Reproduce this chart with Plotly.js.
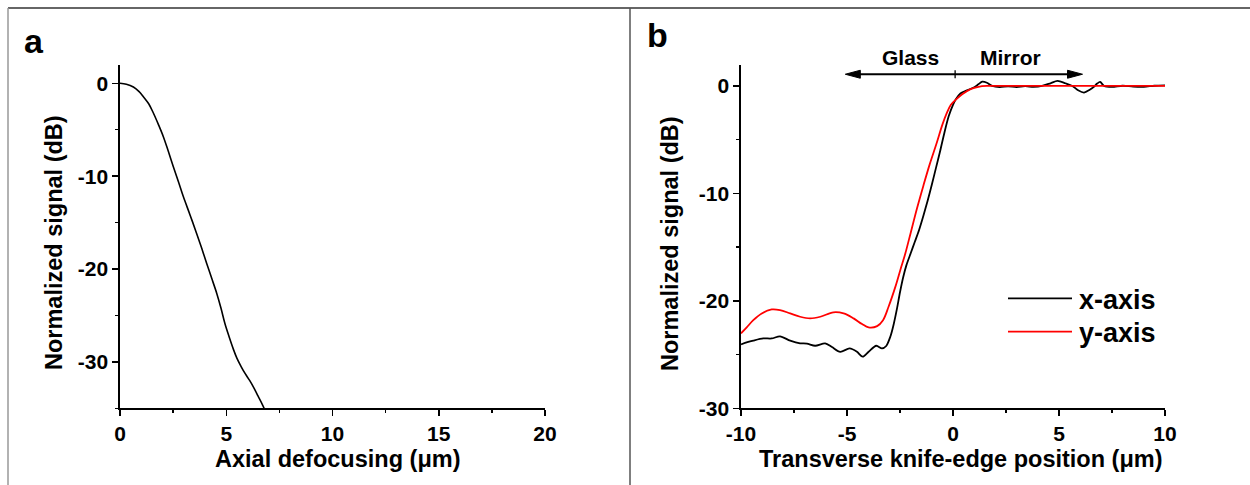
<!DOCTYPE html>
<html>
<head>
<meta charset="utf-8">
<script src="https://cdn.plot.ly/plotly-3.0.1.min.js"></script>
<style>
  html, body { margin: 0; padding: 0; background: #fff; }
  #chart { width: 1250px; height: 485px; }
</style>
</head>
<body>
<div id="chart"></div>
<script>
// Panel a: axial response (signal vs defocus)
const defocusUm = [0, 0.3, 0.63, 0.9, 1.1, 1.35, 1.57, 1.8, 2.04, 2.27, 2.51, 2.75, 2.98, 3.3, 3.61, 3.85, 4.08, 4.3, 4.55, 4.75, 4.94, 5.15, 5.33, 5.5, 5.7, 5.9, 6.1, 6.3, 6.5, 6.7, 6.9];
const axialSignalDb = [0, -0.1, -0.4, -0.9, -1.44, -2.2, -3.2, -4.4, -5.75, -7.3, -8.98, -10.6, -12.2, -14.2, -16.2, -17.8, -19.4, -20.9, -22.6, -24.2, -25.9, -27.4, -28.6, -29.6, -30.5, -31.3, -32.0, -32.8, -33.7, -34.6, -35.6];

// Panel b: knife-edge scans
const knifeX_xaxis = [-10, -9.7, -9.42, -8.95, -8.55, -8.16, -7.68, -7.21, -6.89, -6.5, -6.03, -5.71, -5.32, -4.88, -4.53, -4.26, -3.98, -3.62, -3.35, -3.15, -2.95, -2.8, -2.65, -2.5, -2.35, -2.2, -2.0, -1.8, -1.6, -1.4, -1.2, -1.0, -0.8, -0.6, -0.4, -0.2, 0.0, 0.15, 0.35, 0.6, 0.98, 1.2, 1.38, 1.6, 1.85, 2.2, 2.6, 3.0, 3.4, 3.8, 4.2, 4.6, 4.93, 5.3, 5.63, 5.9, 6.18, 6.45, 6.66, 6.8, 6.94, 7.13, 7.5, 8.0, 8.5, 9.0, 9.5, 10.0];
const signal_xaxis = [-24.05, -23.85, -23.7, -23.5, -23.5, -23.3, -23.7, -23.95, -23.98, -24.18, -23.96, -24.3, -24.74, -24.43, -24.74, -25.2, -24.74, -24.18, -24.43, -24.2, -23.3, -22.2, -20.8, -19.2, -17.8, -16.7, -15.6, -14.5, -13.4, -12.1, -10.7, -9.2, -7.6, -6.0, -4.3, -2.8, -1.75, -1.2, -0.7, -0.45, -0.15, 0.15, 0.4, 0.3, 0.0, -0.1, -0.04, -0.1, -0.02, -0.08, 0.0, 0.25, 0.47, 0.25, 0.0, -0.4, -0.62, -0.35, -0.05, 0.22, 0.37, 0.0, -0.08, 0.02, -0.06, -0.08, 0.02, 0.05];

const knifeX_yaxis = [-10, -9.73, -9.42, -9.02, -8.55, -8.16, -7.68, -7.21, -6.74, -6.26, -5.64, -5.16, -4.69, -4.29, -3.98, -3.58, -3.3, -3.04, -2.72, -2.48, -2.25, -2.0, -1.7, -1.4, -1.1, -0.8, -0.5, -0.3, -0.1, 0.12, 0.45, 0.83, 1.2, 1.6, 3.0, 5.0, 7.0, 10.0];
const signal_yaxis = [-23.03, -22.47, -21.8, -21.17, -20.8, -20.86, -21.17, -21.48, -21.63, -21.48, -21.07, -21.17, -21.63, -22.16, -22.47, -22.35, -21.8, -20.55, -18.7, -17.1, -15.6, -13.7, -11.4, -9.3, -7.3, -5.5, -3.6, -2.55, -1.75, -1.3, -0.75, -0.3, -0.08, 0.0, 0.0, 0.0, 0.0, 0.0];

const seriesNames = ['x-axis', 'y-axis'];
const seriesColors = ['#000000', '#ff0000'];

// Tick labels (hyphen minus, as printed)
const tickA_x = [0, 5, 10, 15, 20];
const tickA_xText = ['0', '5', '10', '15', '20'];
const tickA_y = [-30, -20, -10, 0];
const tickA_yText = ['-30', '-20', '-10', '0'];
const tickB_x = [-10, -5, 0, 5, 10];
const tickB_xText = ['-10', '-5', '0', '5', '10'];
const tickB_y = [-30, -20, -10, 0];
const tickB_yText = ['-30', '-20', '-10', '0'];

// Region markers above panel b
const glassEnd = -5.08;
const mirrorEnd = 6.11;
const interfacePos = 0.1;
const arrowLevel = 1.09;

const W = 1250, H = 485;
const px = v => v / W;
const py = v => 1 - v / H;

const FONT = 'Liberation Sans, Arial, Helvetica, sans-serif';
const tickFont = { family: FONT, size: 21, color: '#000', weight: 'bold' };

function axisBase(extra) {
  return Object.assign({
    showline: true, linecolor: '#000', linewidth: 1.6,
    ticks: 'outside', ticklen: 6, tickwidth: 1.5, tickcolor: '#000',
    showgrid: false, zeroline: false, tickfont: tickFont,
    tickmode: 'array', fixedrange: true
  }, extra);
}

const traces = [
  { x: defocusUm, y: axialSignalDb, xaxis: 'x', yaxis: 'y', mode: 'lines',
    line: { color: '#000', width: 1.6, shape: 'spline', smoothing: 1 }, showlegend: false },
  { x: knifeX_xaxis, y: signal_xaxis, xaxis: 'x2', yaxis: 'y2', mode: 'lines', name: seriesNames[0],
    line: { color: seriesColors[0], width: 1.8, shape: 'spline', smoothing: 0.8 }, showlegend: false },
  { x: knifeX_yaxis, y: signal_yaxis, xaxis: 'x2', yaxis: 'y2', mode: 'lines', name: seriesNames[1],
    line: { color: seriesColors[1], width: 1.8, shape: 'spline', smoothing: 1 }, showlegend: false }
];

// arrowhead size in axis units (15 px long, 4 px half-width)
const xUnitPx = (1165 - 741) / 20;
const yUnitPx = (408.3 - 65) / (1.95 + 30);
const headL = 15 / xUnitPx, headW = 4 / yUnitPx;

function head(tip, dir) {
  const base = tip + dir * headL;
  return `M ${tip},${arrowLevel} L ${base},${arrowLevel + headW} L ${base},${arrowLevel - headW} Z`;
}

const shapes = [
  // figure frame and panel divider
  { type: 'line', xref: 'paper', yref: 'paper', x0: px(8), x1: 1, y0: py(8), y1: py(8), line: { color: '#333', width: 1.5 } },
  { type: 'line', xref: 'paper', yref: 'paper', x0: px(8), x1: px(8), y0: 0, y1: py(8), line: { color: '#999', width: 1.5 } },
  { type: 'line', xref: 'paper', yref: 'paper', x0: px(630), x1: px(630), y0: 0, y1: py(8), line: { color: '#555', width: 1.5 } },
  // Glass / Mirror double arrow
  { type: 'line', xref: 'x2', yref: 'y2', x0: glassEnd + headL * 0.8, x1: mirrorEnd - headL * 0.8, y0: arrowLevel, y1: arrowLevel, line: { color: '#000', width: 2 } },
  { type: 'line', xref: 'x2', yref: 'y2', x0: interfacePos, x1: interfacePos, y0: arrowLevel - headW, y1: arrowLevel + headW, line: { color: '#000', width: 1.3 } },
  { type: 'path', xref: 'x2', yref: 'y2', path: head(glassEnd, 1), fillcolor: '#000', line: { color: '#000', width: 1 } },
  { type: 'path', xref: 'x2', yref: 'y2', path: head(mirrorEnd, -1), fillcolor: '#000', line: { color: '#000', width: 1 } },
  // legend samples
  { type: 'line', xref: 'paper', yref: 'paper', x0: px(1008), x1: px(1072), y0: py(298.3), y1: py(298.3), line: { color: seriesColors[0], width: 1.8 } },
  { type: 'line', xref: 'paper', yref: 'paper', x0: px(1008), x1: px(1072), y0: py(331.7), y1: py(331.7), line: { color: seriesColors[1], width: 1.8 } }
];

function label(text, x, y, size, opts) {
  return Object.assign({
    text: text, x: x, y: y, xref: 'paper', yref: 'paper', showarrow: false,
    xanchor: 'center', yanchor: 'middle',
    font: { family: FONT, size: size, color: '#000', weight: 'bold' }
  }, opts || {});
}

const annotations = [
  label('a', px(22), py(40.5), 34, { xanchor: 'left' }),
  label('b', px(645), py(35.5), 34, { xanchor: 'left' }),
  label('Axial defocusing (\u03bcm)', px(338), py(458.5), 23.5),
  label('Normalized signal (dB)', px(54), py(243), 23.5, { textangle: -90 }),
  label('Transverse knife-edge position (\u03bcm)', px(961), py(459), 23.5),
  label('Normalized signal (dB)', px(670), py(244), 23.5, { textangle: -90 }),
  label(seriesNames[0], px(1077), py(299.5), 27, { xanchor: 'left' }),
  label(seriesNames[1], px(1077), py(332.5), 27, { xanchor: 'left' }),
  label('Glass', -2.0, py(57.5), 21, { xref: 'x2' }),
  label('Mirror', 2.7, py(57.5), 21, { xref: 'x2' })
];

const minorTicks = step => ({ ticks: 'outside', ticklen: 3.5, tickwidth: 1.5, tickcolor: '#000', dtick: step, tick0: 0 });

const layout = {
  width: W, height: H,
  margin: { l: 0, r: 0, t: 0, b: 0 },
  paper_bgcolor: '#fff', plot_bgcolor: '#fff',
  showlegend: false,
  xaxis: axisBase({ domain: [px(120), px(545)], range: [0, 20], anchor: 'y',
    tickvals: tickA_x, ticktext: tickA_xText, minor: minorTicks(2.5) }),
  yaxis: axisBase({ domain: [py(408.3), py(65)], range: [-35, 1.97], anchor: 'x',
    tickvals: tickA_y, ticktext: tickA_yText, minor: minorTicks(5) }),
  xaxis2: axisBase({ domain: [px(741), px(1165)], range: [-10, 10], anchor: 'y2',
    tickvals: tickB_x, ticktext: tickB_xText, minor: minorTicks(2.5) }),
  yaxis2: axisBase({ domain: [py(408.3), py(65)], range: [-30, 1.95], anchor: 'x2',
    tickvals: tickB_y, ticktext: tickB_yText, minor: minorTicks(5) }),
  shapes: shapes,
  annotations: annotations
};

Plotly.newPlot('chart', traces, layout, { displayModeBar: false, staticPlot: true });
</script>
</body>
</html>
